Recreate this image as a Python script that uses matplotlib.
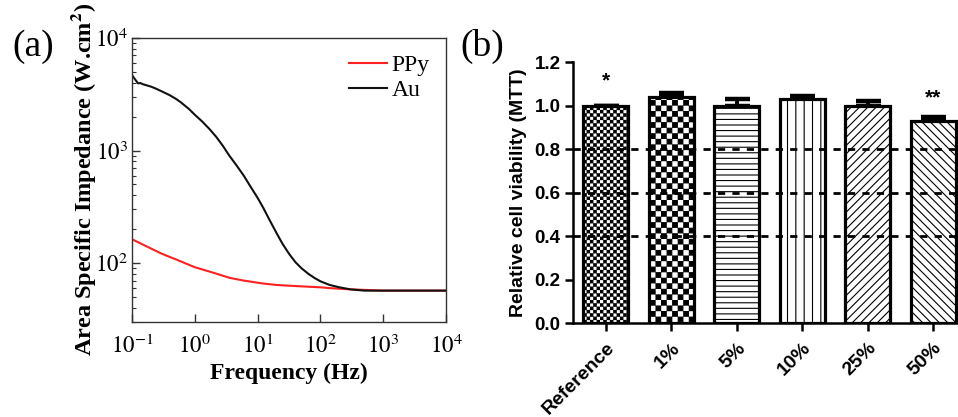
import numpy as np
import matplotlib
matplotlib.use("Agg")
import matplotlib.pyplot as plt
import matplotlib.hatch as mhatch
from matplotlib.path import Path

# ---------------- data ----------------
freq_au = [0.1, 0.105, 0.115, 0.125, 0.135, 0.15, 0.17, 0.2, 0.24, 0.3, 0.4, 0.5,
           0.6, 0.8, 1.0, 1.3, 1.7, 2.2, 2.8, 3.5, 4.6, 6.0, 7.5, 10, 12.3, 15, 20,
           25, 32, 40, 50, 65, 80, 100, 140, 200, 300, 500, 1000, 3000, 10000]
imp_au = [4700, 4500, 4200, 3950, 3980, 3880, 3800, 3700, 3550, 3350, 3100, 2880,
          2680, 2350, 2080, 1820, 1560, 1320, 1100, 910, 740, 600, 490, 380, 310,
          250, 185, 148, 120, 102, 90, 80, 74, 69, 64, 61, 58.5, 57, 57, 57, 57]
freq_ppy = [0.1, 0.2, 0.3, 0.5, 1.0, 2.0, 3.6, 6.0, 12, 20, 42, 100, 140, 300,
            1000, 3000, 10000]
imp_ppy = [163, 135, 121, 108, 92, 82, 74, 70, 66, 64, 62.5, 61, 60, 58.5, 57, 57, 57]

categories = ["Reference", "1%", "5%", "10%", "25%", "50%"]
viability = [1.00, 1.04, 1.00, 1.03, 1.00, 0.93]
viab_err = [0.0, 0.018, 0.03, 0.012, 0.02, 0.015]
hatches = ["OOOOO", "OOO", "---", "||", "////", "\\\\\\\\"]
signif = ["*", "", "", "", "", "**"]
signif_y = [1.115, None, None, None, None, 1.035]
ref_levels = [0.4, 0.6, 0.8]


# ---------------- checkerboard hatch (replaces the unused 'O' circles) ----------------
class CheckerHatch(mhatch.HatchPatternBase):
    def __init__(self, hatch, density):
        self.n = hatch.count('O') * density
        self.num_vertices = (self.n * self.n // 2) * 5 if self.n else 0

    def set_vertices_and_codes(self, vertices, codes):
        n = self.n
        s = 1.0 / n
        ins = 0.0045
        k = 0
        for i in range(n):
            for j in range(n):
                if (i + j) % 2:
                    continue
                x0, y0 = i * s + ins, j * s + ins
                x1, y1 = (i + 1) * s - ins, (j + 1) * s - ins
                vertices[k:k + 5] = [[x0, y0], [x1, y0], [x1, y1], [x0, y1], [x0, y0]]
                codes[k:k + 5] = [Path.MOVETO, Path.LINETO, Path.LINETO,
                                  Path.LINETO, Path.CLOSEPOLY]
                k += 5


mhatch._hatch_types[:] = [CheckerHatch if t is mhatch.LargeCircles else t
                          for t in mhatch._hatch_types]

plt.rcParams['mathtext.fontset'] = 'stix'
plt.rcParams['hatch.linewidth'] = 0.8

fig = plt.figure(figsize=(9.58, 4.17), dpi=100)

serif = "Liberation Serif"
sans = "Liberation Sans"

# ---------------- panel (a) ----------------
ax1 = fig.add_axes([0.1378, 0.2278, 0.3278, 0.6811])
ax1.plot(freq_ppy, imp_ppy, color="#ff2020", lw=1.5, label="PPy")
ax1.plot(freq_au, imp_au, color="#111111", lw=1.5, label="Au")
ax1.set_xscale("log")
ax1.set_yscale("log")
ax1.set_xlim(0.1, 1e4)
ax1.set_ylim(30, 1e4)
for sp in ax1.spines.values():
    sp.set_color("#333333")
    sp.set_linewidth(1.0)
ax1.tick_params(which="both", direction="in", top=False, right=False, color="#333333")
ax1.tick_params(which="major", length=6, width=1.0, labelsize=16.5)
ax1.tick_params(axis="x", which="major", pad=9)
ax1.tick_params(axis="y", which="major", pad=3)
ax1.tick_params(which="minor", length=3, width=0.8)
ax1.set_xticks([0.1, 1, 10, 100, 1000, 10000])
ax1.set_xticklabels([r"$10^{-1}$", r"$10^{0}$", r"$10^{1}$", r"$10^{2}$",
                     r"$10^{3}$", r"$10^{4}$"])
ax1.set_yticks([100, 1000, 10000])
ax1.set_yticklabels([r"$10^{2}$", r"$10^{3}$", r"$10^{4}$"])
ax1.set_xlabel("Frequency (Hz)", fontfamily=serif, fontweight="bold", fontsize=17,
               labelpad=4)
ax1.set_ylabel(r"Area Specific Impedance (W.cm$^{\mathbf{2}}$)", fontfamily=serif,
               fontweight="bold", fontsize=17.5, labelpad=-2)
leg = ax1.legend(loc="upper right", frameon=False, prop={"family": serif, "size": 17},
                 handlelength=1.6, handletextpad=0.2, borderaxespad=0.3, labelspacing=0.15)
fig.text(0.035, 0.888, "(a)", fontfamily=serif, fontsize=27, ha="center", va="center")

# ---------------- panel (b) ----------------
ax2 = fig.add_axes([0.5981, 0.2254, 0.4102, 0.6259])
x = np.arange(len(categories))
bars = ax2.bar(x, viability, width=0.69, color="white", edgecolor="black",
               linewidth=2.3, zorder=2)
for b, h in zip(bars, hatches):
    b.set_hatch(h)
ax2.errorbar(x, viability, yerr=[[0] * len(x), viab_err], fmt="none", ecolor="black",
             elinewidth=2.8, capsize=9, capthick=3.2, zorder=1)
for lvl in ref_levels:
    ax2.axhline(lvl, color="black", lw=2.0, dashes=(2.6, 2.6), zorder=5)
for xi, s, sy in zip(x, signif, signif_y):
    if s:
        ax2.text(xi, sy, s, ha="center", va="center", fontfamily=sans,
                 fontweight="bold", fontsize=15)
ax2.set_xlim(-0.5, 5.5)
ax2.set_ylim(0, 1.2)
ax2.set_yticks(np.arange(0, 1.21, 0.2))
ax2.set_yticklabels([f"{v:.1f}" for v in np.arange(0, 1.21, 0.2)])
ax2.set_xticks(x)
ax2.set_xticklabels(categories, rotation=45, ha="right", rotation_mode="anchor")
for sp in ["top", "right"]:
    ax2.spines[sp].set_visible(False)
for sp in ["left", "bottom"]:
    ax2.spines[sp].set_linewidth(1.8)
ax2.tick_params(direction="out", length=6, width=1.8)
ax2.tick_params(axis="x", pad=6)
ax2.tick_params(axis="y", pad=3)
for lab in ax2.get_xticklabels():
    lab.set_fontfamily(sans)
    lab.set_fontweight("bold")
    lab.set_fontsize(14)
for lab in ax2.get_yticklabels():
    lab.set_fontfamily(sans)
    lab.set_fontweight("bold")
    lab.set_fontsize(13.5)
ax2.set_ylabel("Relative cell viability (MTT)", fontfamily=sans, fontweight="bold",
               fontsize=14, labelpad=5)
fig.text(0.503, 0.888, "(b)", fontfamily=serif, fontsize=27, ha="center", va="center")

fig.savefig("out.png", dpi=100)
